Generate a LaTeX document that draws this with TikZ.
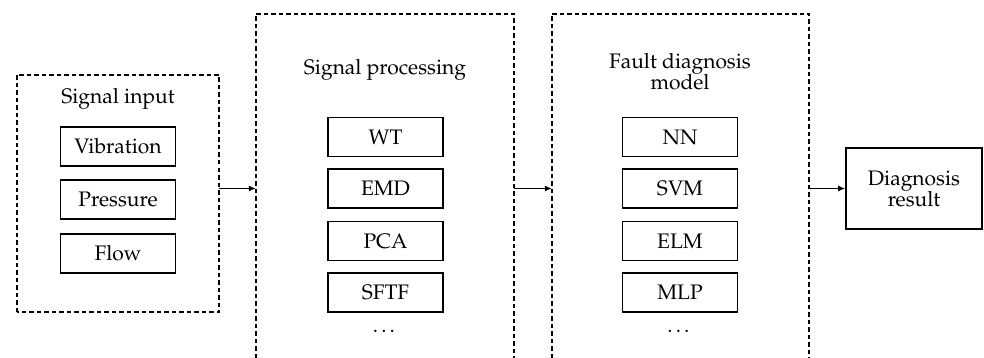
\documentclass[tikz,border=0pt]{standalone}
\usepackage[T1]{fontenc}
\usepackage{mathpazo}
\usetikzlibrary{arrows.meta}
\begin{document}
\begin{tikzpicture}[x=1pt,y=-1pt,
  every node/.style={font=\fontsize{21}{24}\selectfont},
  itembox/.style={draw, line width=1.6pt, minimum width=115pt, minimum height=39pt, inner sep=0pt},
  container/.style={draw=none, minimum width=#1, inner sep=0pt},
  dashline/.style={line width=1.6pt, dash pattern=on 4.5pt off 3pt},
  flow/.style={line width=1.2pt, -{Latex[length=7pt,width=6pt]}},
  title/.style={align=center, inner sep=0pt}
]
\useasboundingbox (0,0) rectangle (984,358);

% containers
\node[container=202pt, minimum height=237pt] (input) at (118,193.5) {};
\node[container=258pt, minimum height=344pt] (proc) at (385,186) {};
\node[container=257pt, minimum height=344pt] (model) at (680.5,186) {};

\draw[dashline] (input.south west) rectangle (input.north east);
\draw[dashline] (proc.south west) -- (proc.north west) -- (proc.north east) -- (proc.south east);
\draw[dashline] (model.south west) -- (model.north west) -- (model.north east) -- (model.south east);

% titles
\node[title] (tin) at (118,99) {Signal input};
\node[title] (tproc) at (385,70) {Signal processing};
\node[title, text depth=0pt] (tmodel) at (680,71) {Fault diagnosis\\[-3pt]model};

% input items
\node[itembox] (vib) at (118,146.5) {Vibration};
\node[itembox] (pre) at (118,199.5) {Pressure};
\node[itembox] (flw) at (118,253.5) {Flow};

% processing items
\node[itembox] (wt) at (385.5,137) {WT};
\node[itembox] (emd) at (385.5,188.5) {EMD};
\node[itembox] (pca) at (385.5,241) {PCA};
\node[itembox] (sftf) at (385.5,292.5) {SFTF};
\node (pdots) at (385.5,331) {\dots};

% model items
\node[itembox] (nn) at (680,137) {NN};
\node[itembox] (svm) at (680,188.5) {SVM};
\node[itembox] (elm) at (680,241) {ELM};
\node[itembox] (mlp) at (680,292.5) {MLP};
\node (mdots) at (680,331) {\dots};

% result
\node[draw, line width=1.6pt, minimum width=136pt, minimum height=81pt, align=center, inner sep=0pt] (res) at (914,188.5) {Diagnosis\\[-3pt]result};

% arrows
\draw[flow] (input.east |- res.west) -- (proc.west |- res.west);
\draw[flow] (proc.east |- res.west) -- (model.west |- res.west);
\draw[flow] (model.east |- res.west) -- (res.west);
\end{tikzpicture}
\end{document}
